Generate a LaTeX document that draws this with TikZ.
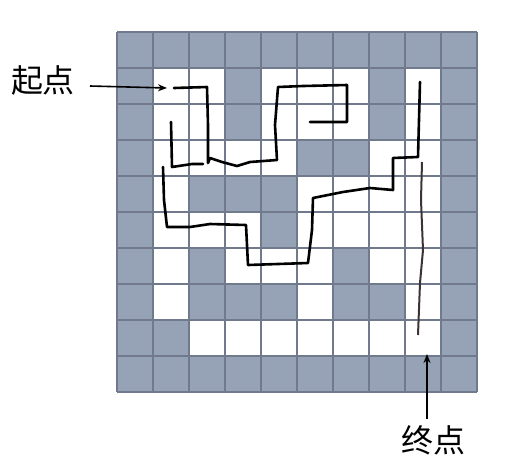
\documentclass[tikz,border=0pt]{standalone}
\usepackage{fontspec}
\newfontfamily\cjk{Noto Sans CJK SC}
\usetikzlibrary{arrows.meta,positioning}

\definecolor{wallgray}{RGB}{150,162,182}
\definecolor{gridline}{RGB}{112,122,140}
\definecolor{pencil}{RGB}{60,52,52}

\begin{document}
\begin{tikzpicture}[x=1pt,y=-1pt,>={Stealth[length=9pt,width=7pt]},
    wall/.style={fill=wallgray},
    path stroke/.style={line width=2.6pt,line join=round,line cap=round},
    label node/.style={font=\cjk\fontsize{32}{32}\selectfont,inner sep=0pt}]

    \useasboundingbox (0,0) rectangle (515,475);

    % maze walls, one row at a time
    \foreach \row/\cols in {0/{0,...,9},1/{0,3,7,9},2/{0,3,7,9},3/{0,5,6,9},
        4/{0,2,3,4,9},5/{0,4,9},6/{0,2,6,9},7/{0,2,3,4,6,7,9},8/{0,1,9},9/{0,...,9}}{
        \foreach \col in \cols{
            \fill[wall] (117+36*\col,32+36*\row) rectangle ++(36,36);
        }
    }
    \foreach \i in {0,...,10}{
        \draw[gridline,line width=1.3pt] (117+36*\i,32) -- (117+36*\i,392);
        \draw[gridline,line width=1.3pt] (117,32+36*\i) -- (477,32+36*\i);
    }

    % hand drawn route
    \draw[path stroke] (174,88) -- (207,87) -- (208,125) -- (208,163) -- (210,158)
        -- (222,162) -- (237,166) -- (250,162) -- (277,160) -- (275,125) -- (278,87)
        -- (303,86) -- (347,85) -- (347,122) -- (310,122);
    \draw[path stroke] (171,122) -- (172,167) -- (192,164) -- (203,164);
    \draw[path stroke] (420,82) -- (419,120) -- (418,157) -- (393,158) -- (393,190)
        -- (370,188) -- (343,192) -- (313,198) -- (312,230) -- (308,263) -- (248,265)
        -- (246,225) -- (210,224) -- (190,227) -- (167,227) -- (164,200) -- (163,167);
    \draw[pencil,line width=2pt,line join=round] (422,162) -- (421,200) -- (423,250)
        -- (420,283) -- (418,335);

    % start and end markers
    \node[label node] (start) at (43,80) {起点};
    \coordinate (startpt) at (167,88);
    \draw[->,line width=1.6pt] (90,86) -- (startpt);

    \node[label node] (finish) at (433,440) {终点};
    \coordinate (finishpt) at (427,354);
    \draw[->,line width=1.6pt] (finish.north -| finishpt) ++(0,-6) -- (finishpt);

\end{tikzpicture}
\end{document}
